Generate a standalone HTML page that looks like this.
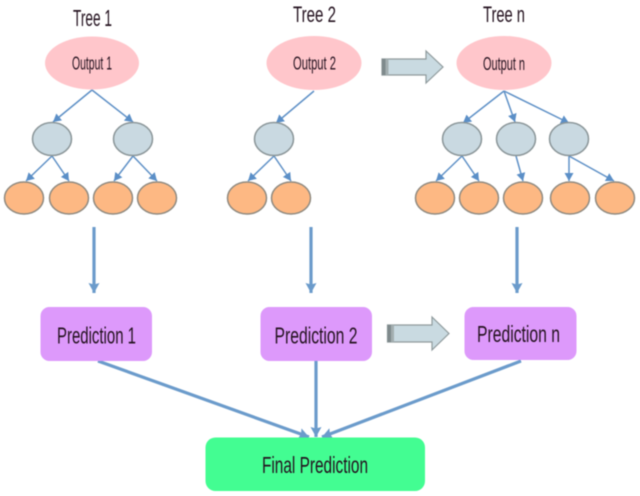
<!DOCTYPE html>
<html>
<head>
<meta charset="utf-8">
<style>
html,body{margin:0;padding:0;background:#fff;width:640px;height:496px;overflow:hidden}
svg{display:block;filter:blur(.45px)}
text{font-family:"Liberation Sans",sans-serif;fill:#24121f;text-anchor:middle}
</style>
</head>
<body>
<svg width="640" height="496" viewBox="0 0 640 496" xmlns="http://www.w3.org/2000/svg">
<defs>
<marker id="a" markerUnits="userSpaceOnUse" markerWidth="10" markerHeight="10" refX="8" refY="4.500" orient="auto"><path d="M0 0L8 4.500L0 9Z" fill="#5b8fc7"/></marker>
<marker id="b" markerUnits="userSpaceOnUse" markerWidth="14" markerHeight="14" refX="10" refY="6" orient="auto"><path d="M0 0.500L10 6L0 11.500L1.500 6Z" fill="#6b9bcb"/></marker>
</defs>

<g stroke="#5e90c6" stroke-width="1.500" fill="none">
<path d="M92 90L53 122" marker-end="url(#a)"/><path d="M92 90L133 122" marker-end="url(#a)"/>
<path d="M52 156L26 181" marker-end="url(#a)"/><path d="M52 156L69 181" marker-end="url(#a)"/>
<path d="M133 156L114 181" marker-end="url(#a)"/><path d="M133 156L157 181" marker-end="url(#a)"/>
<path d="M314 91L276 123" marker-end="url(#a)"/>
<path d="M274 156L248 181" marker-end="url(#a)"/><path d="M274 156L291 181" marker-end="url(#a)"/>
<path d="M504 91L463 123" marker-end="url(#a)"/><path d="M504 91L515 122" marker-end="url(#a)"/><path d="M504 91L569 123" marker-end="url(#a)"/>
<path d="M462 156L436 181" marker-end="url(#a)"/><path d="M462 156L479 181" marker-end="url(#a)"/>
<path d="M516 156L523 181" marker-end="url(#a)"/>
<path d="M569 156L569 181" marker-end="url(#a)"/><path d="M569 156L614 181" marker-end="url(#a)"/>
</g>

<g fill="#ffc6cb">
<ellipse cx="92" cy="63" rx="47" ry="26.500"/>
<ellipse cx="314" cy="63" rx="47.500" ry="27"/>
<ellipse cx="504" cy="63" rx="47.500" ry="27"/>
</g>
<g fill="#c9d9e1" stroke="#8a9598" stroke-width="1.500">
<ellipse cx="52" cy="139" rx="19.500" ry="16.500"/>
<ellipse cx="133" cy="139" rx="19.500" ry="16.500"/>
<ellipse cx="274" cy="139" rx="19.500" ry="16.500"/>
<ellipse cx="462" cy="139" rx="19.500" ry="16.500"/>
<ellipse cx="516" cy="139" rx="19.500" ry="16.500"/>
<ellipse cx="569" cy="139" rx="19.500" ry="16.500"/>
</g>
<g fill="#fdb883" stroke="#8f8a80" stroke-width="1.500">
<ellipse cx="24" cy="198" rx="19.500" ry="16"/>
<ellipse cx="69" cy="198" rx="19.500" ry="16"/>
<ellipse cx="113" cy="198" rx="19.500" ry="16"/>
<ellipse cx="157" cy="198" rx="19.500" ry="16"/>
<ellipse cx="247" cy="198" rx="19.500" ry="16"/>
<ellipse cx="291" cy="198" rx="19.500" ry="16"/>
<ellipse cx="435" cy="198" rx="19.500" ry="16"/>
<ellipse cx="479" cy="198" rx="19.500" ry="16"/>
<ellipse cx="523" cy="198" rx="19.500" ry="16"/>
<ellipse cx="570" cy="198" rx="19.500" ry="16"/>
<ellipse cx="615" cy="198" rx="19.500" ry="16"/>
</g>

<g stroke="#6b9bcb" stroke-width="3.200" fill="none">
<path d="M94 227L94 293" marker-end="url(#b)"/>
<path d="M311 227L311 293" marker-end="url(#b)"/>
<path d="M517 227L517 293" marker-end="url(#b)"/>
<path d="M98 361L309 437" marker-end="url(#b)"/>
<path d="M316 361L316 437" marker-end="url(#b)"/>
<path d="M521 361L322 437" marker-end="url(#b)"/>
</g>

<g fill="#dd99fb">
<rect x="40.500" y="307" width="111.500" height="54" rx="9"/>
<rect x="260.500" y="307" width="111.500" height="54" rx="9"/>
<rect x="464.500" y="307" width="112" height="53" rx="9"/>
</g>
<rect x="205.500" y="437.500" width="219.500" height="53.500" rx="10" fill="#43fd92"/>

<g stroke="#8f9a9c" stroke-width="1.200" fill="#c9dae1">
<path d="M382 59H426V51L443 67L426 83V75H382Z"/>
<path d="M387.500 325H432V317L449 333.500L432 350V342H387.500Z"/>
</g>
<rect x="382" y="59" width="3.500" height="16" fill="#7f8a8c"/>
<rect x="385.500" y="59" width="3" height="16" fill="#a3aeb0"/>
<rect x="387.500" y="325" width="3.500" height="17" fill="#7f8a8c"/>
<rect x="391" y="325" width="3" height="17" fill="#a3aeb0"/>

<text x="92.500" y="26" font-size="23" textLength="39" lengthAdjust="spacingAndGlyphs">Tree 1</text>
<text x="314.500" y="22" font-size="22" textLength="43" lengthAdjust="spacingAndGlyphs">Tree 2</text>
<text x="504" y="22" font-size="22" textLength="42" lengthAdjust="spacingAndGlyphs">Tree n</text>
<g font-size="18">
<text x="92" y="69.500" textLength="40" lengthAdjust="spacingAndGlyphs">Output 1</text>
<text x="314.500" y="69.500" textLength="43" lengthAdjust="spacingAndGlyphs">Output 2</text>
<text x="504" y="70" textLength="42" lengthAdjust="spacingAndGlyphs">Output n</text>
</g>
<g font-size="23">
<text x="96.500" y="343.500" textLength="79" lengthAdjust="spacingAndGlyphs">Prediction 1</text>
<text x="316" y="343.500" textLength="83" lengthAdjust="spacingAndGlyphs">Prediction 2</text>
<text x="518.500" y="342" textLength="83" lengthAdjust="spacingAndGlyphs">Prediction n</text>
<text x="315" y="473" textLength="106" lengthAdjust="spacingAndGlyphs">Final Prediction</text>
</g>
</svg>
</body>
</html>
